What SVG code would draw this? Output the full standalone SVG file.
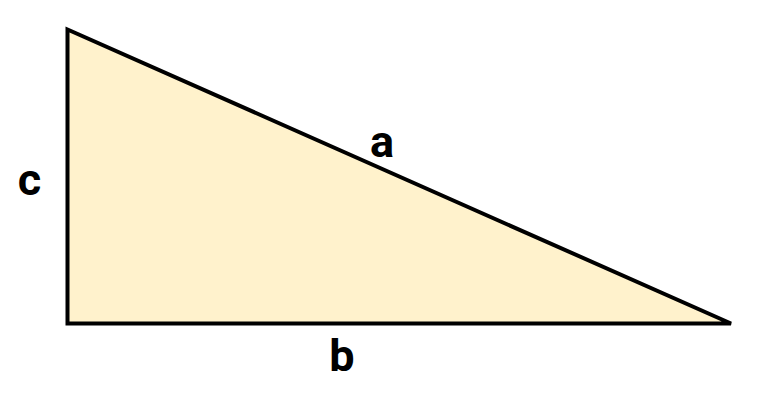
<svg xmlns="http://www.w3.org/2000/svg" width="764" height="406" viewBox="0 0 764 406">
<style>
.lbl{font-family:Roboto,"Liberation Sans",sans-serif;font-weight:bold;font-size:45px;fill:#000;text-anchor:middle}
</style>
<rect width="764" height="406" fill="#fff"/>
<g id="triangle">
<polygon points="67.5,29.5 67.5,323.5 731,323.5" fill="#FFF2CC" stroke="#000" stroke-width="4" stroke-linejoin="miter"/>
</g>
<g id="connectors"></g>
<g id="label-a"><text class="lbl" x="382" y="157">a</text></g>
<g id="label-b"><text class="lbl" x="342" y="371">b</text></g>
<g id="label-c"><text class="lbl" x="29.5" y="195">c</text></g>
</svg>
